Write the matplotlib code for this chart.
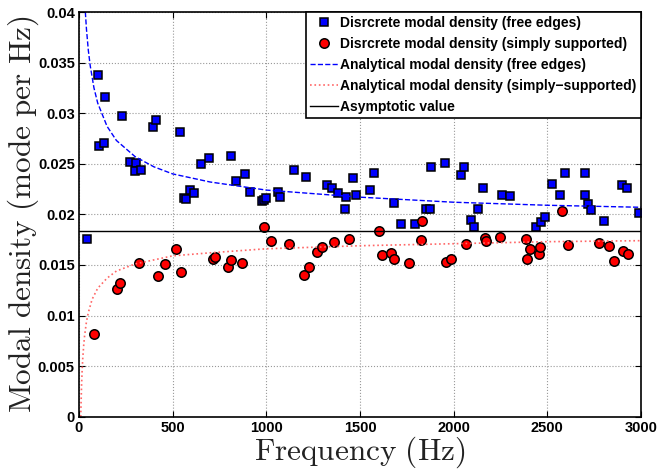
import matplotlib
matplotlib.use('Agg')
import matplotlib.pyplot as plt

plt.rcParams['mathtext.fontset'] = 'cm'

# discrete modal density, free edges (Hz, modes per Hz)
free_f = [43, 100, 108, 132, 139, 230, 272, 302, 301, 329, 397, 413, 537, 562, 573,
          591, 616, 649, 694, 810, 840, 886, 911, 978, 990, 998, 1064, 1075, 1148,
          1212, 1324, 1350, 1382, 1420, 1427, 1461, 1480, 1553, 1573, 1683, 1717,
          1794, 1851, 1874, 1879, 1952, 2039, 2057, 2091, 2110, 2130, 2158, 2256,
          2301, 2441, 2466, 2488, 2527, 2566, 2596, 2699, 2703, 2717, 2735, 2804,
          2899, 2925, 2991]
free_n = [0.01757, 0.0338, 0.02671, 0.02707, 0.03162, 0.02974, 0.02522, 0.02509,
          0.02433, 0.0244, 0.02866, 0.02935, 0.02813, 0.0216, 0.02153, 0.02242,
          0.02213, 0.02502, 0.02556, 0.02572, 0.02325, 0.0240, 0.0222, 0.02133,
          0.02145, 0.02163, 0.02226, 0.0217, 0.02443, 0.02368, 0.02292, 0.02262,
          0.02213, 0.02057, 0.02173, 0.02358, 0.02196, 0.02242, 0.02404, 0.02111,
          0.01903, 0.01909, 0.02054, 0.02057, 0.0247, 0.02506, 0.02394, 0.02467,
          0.01949, 0.01876, 0.02057, 0.02262, 0.0219, 0.02183, 0.01873, 0.01929,
          0.01975, 0.02299, 0.0219, 0.0241, 0.02404, 0.0219, 0.02104, 0.02047,
          0.01933, 0.02295, 0.02265, 0.02012]

# discrete modal density, simply supported
ss_f = [80, 201, 219, 319, 422, 457, 516, 543, 714, 728, 795, 813, 872, 987, 1023,
        1121, 1201, 1228, 1269, 1299, 1359, 1441, 1603, 1617, 1664, 1681, 1760,
        1826, 1829, 1959, 1986, 2064, 2165, 2174, 2249, 2386, 2390, 2406, 2454,
        2463, 2580, 2610, 2774, 2831, 2856, 2902, 2932]
ss_n = [0.00815, 0.01263, 0.01325, 0.01517, 0.01395, 0.01507, 0.01656, 0.01434,
        0.01563, 0.01576, 0.01484, 0.0155, 0.01517, 0.01879, 0.01741, 0.01708,
        0.01398, 0.01478, 0.01632, 0.01681, 0.01725, 0.01758, 0.01837, 0.01602,
        0.01616, 0.01563, 0.0152, 0.0175, 0.01939, 0.01527, 0.01557, 0.01708,
        0.01764, 0.01738, 0.0178, 0.0176, 0.0156, 0.01662, 0.01609, 0.01681,
        0.02035, 0.01695, 0.01715, 0.01685, 0.01543, 0.01642, 0.01606]

# analytical curves
an_free_f = [34, 40, 50, 60, 80, 100, 150, 200, 300, 400, 500, 700, 1000, 1500,
             2000, 2500, 3000]
an_free_n = [0.0400, 0.0383, 0.0362, 0.0347, 0.0325, 0.0310, 0.0287, 0.0273,
             0.0257, 0.0247, 0.0240, 0.0232, 0.0224, 0.0217, 0.0212, 0.0209, 0.0207]
an_ss_f = [9.6, 10, 11, 12, 14, 17, 20, 25, 30, 40, 50, 70, 100, 150, 200, 300,
           500, 700, 1000, 1500, 2000, 2500, 3000]
an_ss_n = [0.0, 0.0004, 0.0012, 0.0019, 0.0032, 0.0046, 0.0057, 0.0070, 0.0080,
           0.0094, 0.0103, 0.0116, 0.0127, 0.0137, 0.0144, 0.0151, 0.0159, 0.0162,
           0.0166, 0.0169, 0.0171, 0.0173, 0.0174]

asymptote = 0.0184

xticks = [0, 500, 1000, 1500, 2000, 2500, 3000]
yticks = [0, 0.005, 0.01, 0.015, 0.02, 0.025, 0.03, 0.035, 0.04]
ytick_labels = ['0', '0.005', '0.01', '0.015', '0.02', '0.025', '0.03', '0.035', '0.04']

fig = plt.figure(figsize=(6.57, 4.75), dpi=100)
ax = fig.add_axes([0.1202, 0.1227, 0.8554, 0.852])

ax.plot(free_f, free_n, 's', color='#0000ff', markeredgecolor='k', markersize=6,
        markeredgewidth=1.1, label='Disrcrete modal density (free edges)')
ax.plot(ss_f, ss_n, 'o', color='#ff0000', markeredgecolor='k', markersize=6.8,
        markeredgewidth=1.1, label='Disrcrete modal density (simply supported)')
ax.plot(an_free_f, an_free_n, '--', color='#0000ff', lw=1,
        label='Analytical modal density (free edges)')
ax.plot(an_ss_f, an_ss_n, ':', color='#ff6666', lw=1.2,
        label='Analytical modal density (simply\u2212supported)')
ax.axhline(asymptote, color='k', lw=1, label='Asymptotic value')

ax.set_xlim(0, 3000)
ax.set_ylim(0, 0.04)
ax.set_xticks(xticks)
ax.set_xticklabels([str(t) for t in xticks])
ax.set_yticks(yticks)
ax.set_yticklabels(ytick_labels)
for lab in ax.get_xticklabels() + ax.get_yticklabels():
    lab.set_fontfamily('Liberation Sans')
    lab.set_fontweight('bold')
    lab.set_fontsize(10.5)
ax.tick_params(direction='in', top=True, right=True, length=4, width=0.8, pad=3)
ax.grid(True, linestyle=':', color='#999999', lw=0.8)
for s in ax.spines.values():
    s.set_linewidth(1.2)

ax.set_xlabel(r'$\mathrm{Frequency\ (Hz)}$', fontsize=22.5, color='#222222', labelpad=0)
ax.set_ylabel(r'$\mathrm{Modal\ density\ (mode\ per\ Hz)}$', fontsize=22.5,
              color='#222222', labelpad=-2)

leg = ax.legend(loc='upper right', borderaxespad=0, fancybox=False, numpoints=1,
                handlelength=2, handletextpad=0.2, borderpad=0.3,
                prop={'family': 'Liberation Sans', 'weight': 'bold', 'size': 10})
leg.get_frame().set_edgecolor('k')
leg.get_frame().set_linewidth(1.2)
leg.get_frame().set_alpha(1)

fig.savefig('out.png', dpi=100)
